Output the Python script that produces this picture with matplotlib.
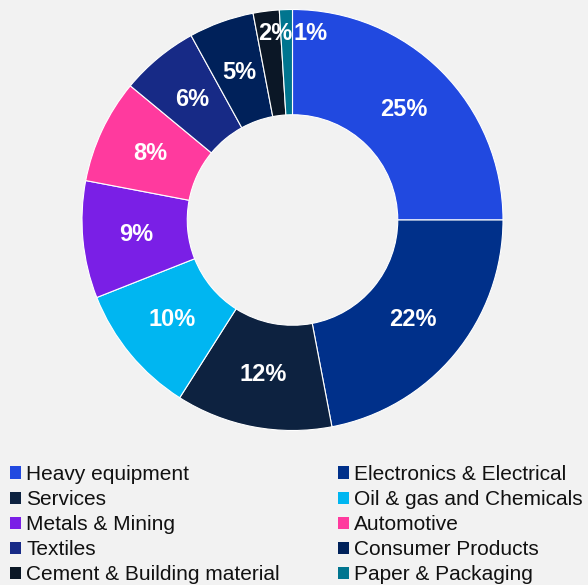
import numpy as np
import matplotlib.pyplot as plt
from matplotlib.patches import Patch

plt.rcParams['font.family'] = ['Liberation Sans', 'DejaVu Sans']

# sector share of the customer base, percent
sectors = ["Heavy equipment", "Electronics & Electrical", "Services",
           "Oil & gas and Chemicals", "Metals & Mining", "Automotive",
           "Textiles", "Consumer Products", "Cement & Building material",
           "Paper & Packaging"]
shares = [25, 22, 12, 10, 9, 8, 6, 5, 2, 1]
colors = ["#2149E0", "#00308A", "#0D2240", "#00B6F1", "#7A1FE6",
          "#FF3A9E", "#172A86", "#00215A", "#0B1726", "#00758F"]

bg = "#F2F2F2"
fig = plt.figure(figsize=(5.88, 5.85), dpi=100, facecolor=bg)
ax = fig.add_axes([82 / 588, (585 - 430.5) / 585, 421 / 588, 421 / 585])
ax.set_facecolor(bg)

wedges, _ = ax.pie(shares, colors=colors, startangle=90, counterclock=False,
                   radius=1.0, wedgeprops=dict(width=0.5, edgecolor="white", linewidth=0.8))

# percentage labels in the middle of the ring; the two thin slices
# get theirs pushed out and spread either side of the top
for w, v in zip(wedges, shares):
    ang = np.deg2rad((w.theta1 + w.theta2) / 2)
    if v <= 2:
        x = 0.088 if v == 1 else -0.083
        y = 0.884
    else:
        x = 0.745 * np.cos(ang)
        y = 0.745 * np.sin(ang)
    ax.text(x, y, f"{v}%", ha="center", va="center", color="white",
            fontsize=17, fontweight="bold")

ax.set_xlim(-1, 1)
ax.set_ylim(-1, 1)
ax.set_aspect("equal")
ax.axis("off")

handles = [Patch(facecolor=c, edgecolor="none") for c in colors]
common = dict(frameon=False, fontsize=15, handlelength=0.53, handleheight=0.53,
              handletextpad=0.24, labelspacing=0.29, borderpad=0, borderaxespad=0)
leg1 = fig.legend(handles[0::2], sectors[0::2], loc="upper left",
                  bbox_to_anchor=(10 / 588, 1 - 465 / 585), **common)
leg2 = fig.legend(handles[1::2], sectors[1::2], loc="upper left",
                  bbox_to_anchor=(338 / 588, 1 - 465 / 585), **common)
for leg in (leg1, leg2):
    for t in leg.get_texts():
        t.set_color("#111111")

fig.savefig("out.png", dpi=100, facecolor=bg)
